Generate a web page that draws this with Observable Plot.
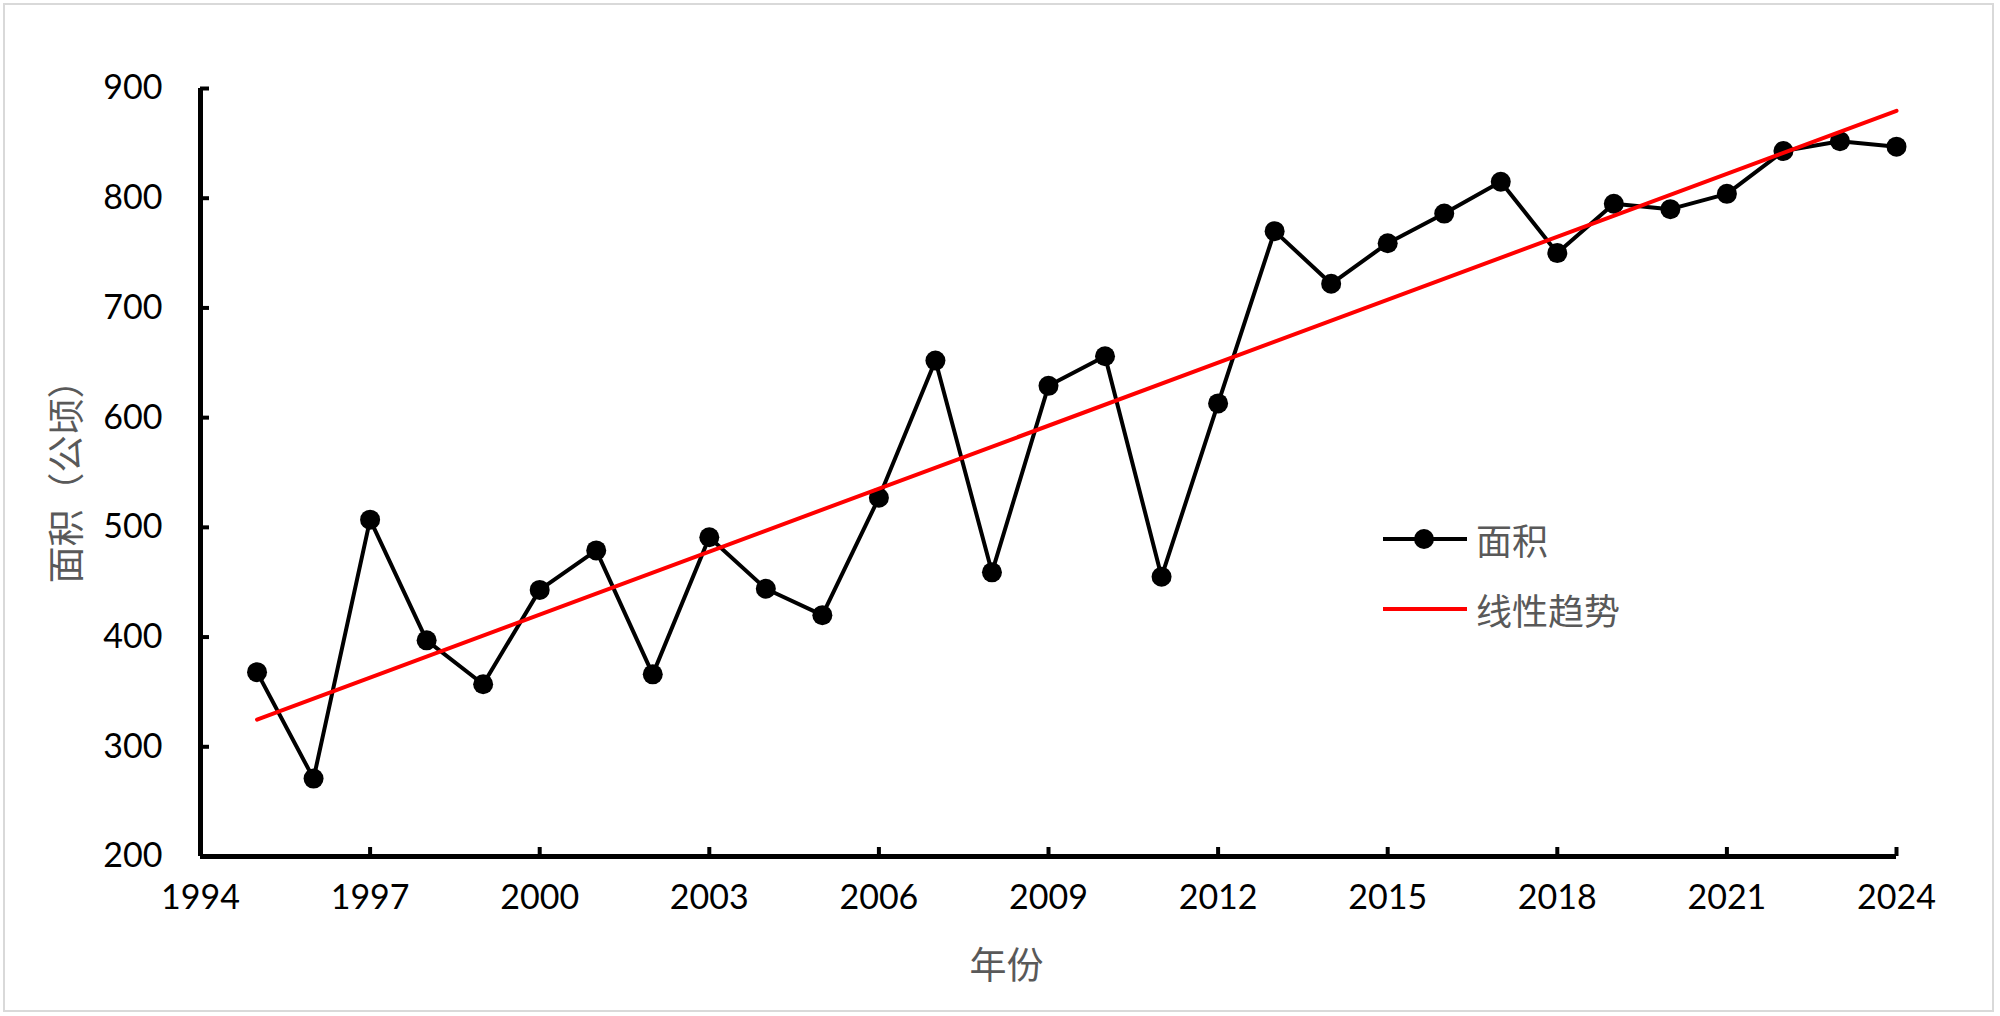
<!DOCTYPE html>
<html>
<head>
<meta charset="utf-8">
<script src="https://cdn.jsdelivr.net/npm/d3@7"></script>
<script src="https://cdn.jsdelivr.net/npm/@observablehq/plot@0.6"></script>
<style>
  html, body { margin: 0; padding: 0; background: #fff; }
  #wrap { position: relative; width: 2000px; height: 1016px; overflow: hidden; }
  #chart { position: absolute; left: 0; top: 0; }
  #border { position: absolute; left: 3px; top: 3px; width: 1991px; height: 1009px; border: 2px solid #d9d9d9; box-sizing: border-box; pointer-events: none; }
  .lg { position: absolute; left: 1380px; height: 50px; display: flex; align-items: center; font-family: "Noto Sans CJK SC", sans-serif; font-size: 36px; color: #595959; }
  .lg svg { margin-right: 6px; }
</style>
</head>
<body>
<div id="wrap">
  <div id="chart"></div>
  <div id="legend"></div>
  <div id="border"></div>
</div>
<script>
// ---- data ----
const years = [1995, 1996, 1997, 1998, 1999, 2000, 2001, 2002, 2003, 2004,
               2005, 2006, 2007, 2008, 2009, 2010, 2011, 2012, 2013, 2014,
               2015, 2016, 2017, 2018, 2019, 2020, 2021, 2022, 2023, 2024];
const area = [368, 271, 507, 397, 357, 443, 479, 366, 491, 444,
              420, 527, 652, 459, 629, 656, 455, 613, 770, 722,
              759, 786, 815, 750, 795, 790, 804, 843, 852, 847];
const xTicks = [1994, 1997, 2000, 2003, 2006, 2009, 2012, 2015, 2018, 2021, 2024];
const yTicks = [200, 300, 400, 500, 600, 700, 800, 900];
const seriesNames = ["面积", "线性趋势"];
const xTitle = "年份";
const yTitle = "面积（公顷）";

const data = years.map((year, i) => ({ year, area: area[i] }));

const chart = Plot.plot({
  width: 2000,
  height: 1016,
  marginLeft: 200,
  marginRight: 104,
  marginTop: 88,
  marginBottom: 160,
  style: { fontFamily: "Lato, sans-serif", fontSize: "34px", color: "#000", background: "transparent", overflow: "visible" },
  x: { domain: [1994, 2024] },
  y: { domain: [200, 900] },
  marks: [
    Plot.axisX({ ticks: xTicks, tickFormat: d => String(d), tickSize: -9, tickPadding: 37, strokeWidth: 4, label: null, fill: "#000" }),
    Plot.axisY({ ticks: yTicks, tickSize: -9, tickPadding: 47, strokeWidth: 4, label: null, fill: "#000" }),
    Plot.ruleX([1994], { stroke: "#000", strokeWidth: 5 }),
    Plot.ruleY([200], { stroke: "#000", strokeWidth: 5 }),
    Plot.line(data, { x: "year", y: "area", stroke: "#000", strokeWidth: 4 }),
    Plot.dot(data, { x: "year", y: "area", r: 10, fill: "#000", stroke: "none" }),
    Plot.linearRegressionY(data, { x: "year", y: "area", stroke: "#ff0000", strokeWidth: 4, ci: 0 }),
    Plot.text([yTitle], { frameAnchor: "left", textAnchor: "middle", lineAnchor: "middle", dx: -132, rotate: -90, fontFamily: "Noto Sans CJK SC", fontSize: 37, fill: "#595959", text: d => d }),
    Plot.text([xTitle], { frameAnchor: "bottom", textAnchor: "middle", lineAnchor: "middle", dx: -42, dy: 111, fontFamily: "Noto Sans CJK SC", fontSize: 37, fill: "#595959", text: d => d })
  ]
});
document.getElementById("chart").appendChild(chart);

// ---- legend ----
const legend = document.getElementById("legend");
const rows = [
  { name: seriesNames[0], color: "#000", dot: true, top: 514 },
  { name: seriesNames[1], color: "#ff0000", dot: false, top: 584 }
];
rows.forEach(r => {
  const div = document.createElement("div");
  div.className = "lg";
  div.style.top = r.top + "px";
  div.innerHTML = `<svg width="90" height="50"><line x1="3" y1="25" x2="87" y2="25" stroke="${r.color}" stroke-width="4"/>${r.dot ? '<circle cx="44" cy="25" r="10" fill="#000"/>' : ''}</svg><span>${r.name}</span>`;
  legend.appendChild(div);
});
</script>
</body>
</html>
